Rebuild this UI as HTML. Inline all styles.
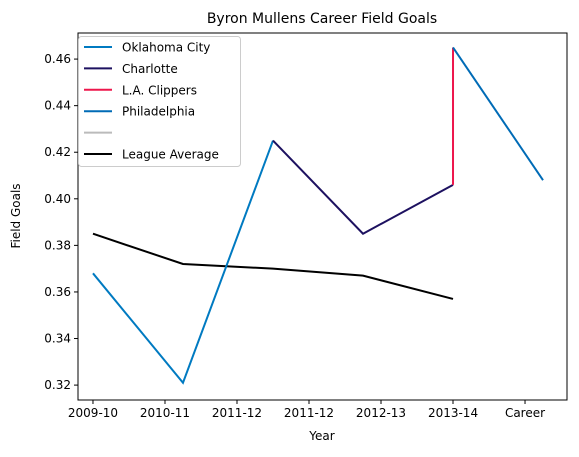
<!DOCTYPE html>
<html><head><meta charset="utf-8"><style>
body{margin:0;background:#fff;font-family:"DejaVu Sans","Liberation Sans",sans-serif}
svg text{font-family:"DejaVu Sans","Liberation Sans",sans-serif;fill:#000}
</style></head><body>
<svg id="chart" width="579" height="453" xmlns="http://www.w3.org/2000/svg">
<text x="322" y="23" font-size="14" text-anchor="middle">Byron Mullens Career Field Goals</text>
<text x="322" y="440" font-size="12" text-anchor="middle">Year</text>
<text x="20" y="216" font-size="12" text-anchor="middle" transform="rotate(-90 20 216)">Field Goals</text>
<g id="plot"></g>
</svg>
<script>
const xTickLabels=["2009-10","2010-11","2011-12","2011-12","2012-13","2013-14","Career"];
const yTicks=[0.32,0.34,0.36,0.38,0.40,0.42,0.44,0.46];
const okcX=[0,1.25,2.5], okcY=[0.368,0.321,0.425];
const chaX=[2.5,3.75,5], chaY=[0.425,0.385,0.406];
const lacX=[5,5], lacY=[0.406,0.465];
const phiX=[5,6.25], phiY=[0.465,0.408];
const lgX=[0,1.25,2.5,3.75,5], lgY=[0.385,0.372,0.370,0.367,0.357];
const L=78,R=567,T=33,B=400,xmin=-0.208,xmax=6.583,ymin=0.3136,ymax=0.4712;
const sx=v=>L+(v-xmin)/(xmax-xmin)*(R-L);
const sy=v=>B-(v-ymin)/(ymax-ymin)*(B-T);
const NS="http://www.w3.org/2000/svg";
const g=document.getElementById('plot');
function mk(t,a){const e=document.createElementNS(NS,t);for(const k in a)e.setAttribute(k,a[k]);g.appendChild(e);return e;}
function line(xs,ys,c,name){const e=mk('polyline',{points:xs.map((x,i)=>sx(x)+','+sy(ys[i])).join(' '),fill:'none',stroke:c,'stroke-width':2});

}
line(lgX,lgY,'#000','league-average-line');
line(okcX,okcY,'#007AC1','oklahoma-city-line');
line(chaX,chaY,'#1D1160','charlotte-line');
line(lacX,lacY,'#ED174C','la-clippers-line');
line(phiX,phiY,'#006BB6','philadelphia-line');
const fr=mk('rect',{x:L,y:T,width:R-L,height:B-T,fill:'none',stroke:'#000','stroke-width':1});


xTickLabels.forEach((t,i)=>{const x=sx(i);mk('line',{x1:x,x2:x,y1:B,y2:B+4,stroke:'#000'});
const e=mk('text',{x:x,y:B+17,'font-size':12,'text-anchor':'middle'});e.textContent=t;

});
yTicks.forEach(v=>{const y=sy(v);mk('line',{x1:L-4,x2:L,y1:y,y2:y,stroke:'#000'});
const e=mk('text',{x:L-7,y:y+4,'font-size':12,'text-anchor':'end'});e.textContent=v.toFixed(2);

});
const lb=mk('rect',{x:78.5,y:36.5,width:162,height:130,rx:3,fill:'#fff','fill-opacity':0.8,stroke:'#ccc'});


const leg=[["Oklahoma City","#007AC1"],["Charlotte","#1D1160"],["L.A. Clippers","#ED174C"],["Philadelphia","#006BB6"],["","#bbb"],["League Average","#000"]];
leg.forEach((d,i)=>{const y=47+i*21.4;mk('line',{x1:84,x2:112,y1:y,y2:y,stroke:d[1],'stroke-width':2});
const e=mk('text',{x:122,y:y+4.5,'font-size':12});e.textContent=d[0];

});
</script>
</body></html>
